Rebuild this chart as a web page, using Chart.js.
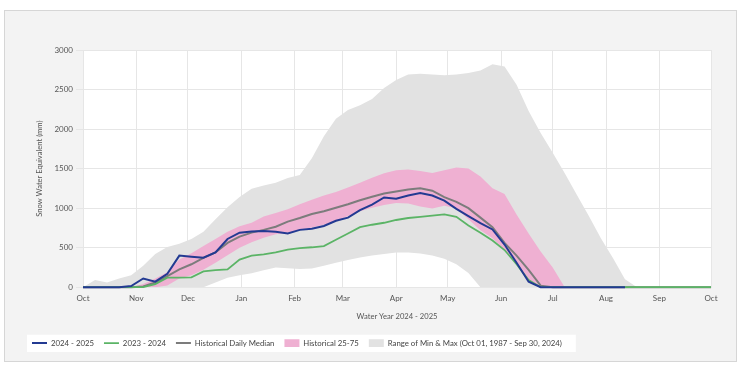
<!DOCTYPE html>
<html lang="en">
<head>
<meta charset="UTF-8">
<title>Snow Water Equivalent</title>
<script src="https://cdn.jsdelivr.net/npm/chart.js@4.4.1/dist/chart.umd.min.js"></script>
<style>
  body { margin: 0; background: #fff; }
  #box { position: absolute; left: 4px; top: 10px; width: 731px; height: 350px; border: 1px solid #d6d6d6; background: #f3f3f3; }
</style>
</head>
<body>
<div id="box"><canvas id="swe"></canvas></div>
<script>
// day of water year (0 = Oct 1)
const days = [0, 7, 14, 21, 28, 35, 42, 49, 56, 63, 70, 77, 84, 91, 98, 105, 112, 119, 126, 133, 140, 147, 154, 161, 168, 175, 182, 189, 196, 203, 210, 217, 224, 231, 238, 245, 252, 259, 266, 273, 280, 287, 294, 301, 308, 315, 322, 329, 336, 343, 350, 357, 364, 365];
const monthDays = [0, 31, 61, 92, 123, 151, 182, 212, 243, 273, 304, 335, 365];
const monthLabels = ['Oct', 'Nov', 'Dec', 'Jan', 'Feb', 'Mar', 'Apr', 'May', 'Jun', 'Jul', 'Aug', 'Sep', 'Oct'];

// SWE in mm
const wy2025 = [0, 0, 0, 0, 15, 110, 70, 170, 400, 385, 372, 440, 610, 690, 705, 712, 700, 680, 725, 740, 775, 840, 880, 975, 1045, 1135, 1120, 1160, 1190, 1160, 1095, 990, 900, 810, 730, 540, 310, 70, 0, 0, 0, 0, 0, 0, 0, 0, null, null, null, null, null, null, null, null];
const wy2024 = [0, 0, 0, 0, 0, 0, 40, 120, 120, 125, 200, 215, 225, 350, 400, 415, 440, 475, 495, 505, 520, 600, 680, 760, 790, 815, 850, 875, 890, 905, 920, 890, 780, 690, 590, 470, 290, 90, 0, 0, 0, 0, 0, 0, 0, 0, 0, 0, 0, 0, 0, 0, 0, 0];
const median = [0, 0, 0, 0, 0, 10, 60, 140, 225, 290, 370, 440, 560, 640, 690, 725, 765, 830, 875, 925, 960, 1005, 1050, 1100, 1145, 1185, 1210, 1235, 1250, 1220, 1140, 1080, 1000, 880, 760, 560, 400, 220, 20, 0, 0, 0, 0, 0, 0, 0, 0, 0, 0, 0, 0, 0, 0, 0];
const p75 = [0, 0, 0, 0, 0, 40, 110, 190, 350, 430, 520, 610, 700, 770, 815, 895, 940, 985, 1050, 1105, 1160, 1205, 1260, 1320, 1385, 1440, 1480, 1490, 1470, 1445, 1480, 1515, 1500, 1400, 1250, 1180, 920, 680, 450, 250, 0, 0, 0, 0, 0, 0, 0, 0, 0, 0, 0, 0, 0, 0];
const p25 = [0, 0, 0, 0, 0, 0, 0, 20, 110, 150, 220, 310, 405, 500, 570, 625, 670, 690, 725, 755, 790, 830, 900, 960, 1005, 1040, 1065, 1060, 1020, 995, 1030, 1000, 860, 720, 620, 470, 280, 90, 0, 0, 0, 0, 0, 0, 0, 0, 0, 0, 0, 0, 0, 0, 0, 0];
const maxSwe = [0, 90, 60, 110, 150, 270, 420, 510, 550, 610, 700, 860, 1010, 1140, 1245, 1285, 1320, 1380, 1420, 1630, 1910, 2130, 2240, 2300, 2380, 2520, 2620, 2690, 2700, 2690, 2680, 2690, 2710, 2740, 2820, 2790, 2560, 2230, 1950, 1700, 1440, 1170, 900, 620, 370, 100, 0, 0, 0, 0, 0, 0, 0, 0];
const minSwe = [0, 0, 0, 0, 0, 0, 0, 0, 0, 0, 0, 60, 120, 150, 175, 215, 250, 240, 230, 235, 270, 310, 345, 375, 400, 420, 440, 440, 425, 400, 360, 290, 180, 0, 0, 0, 0, 0, 0, 0, 0, 0, 0, 0, 0, 0, 0, 0, 0, 0, 0, 0, 0, 0];

const pts = arr => days.map((d, i) => ({x: d, y: arr[i]}));
const FONT = 'Lato';

function lineSet(label, arr, color, width) {
    return {
        label: label, data: pts(arr), borderColor: color, borderWidth: width,
        pointRadius: 0, pointStyle: 'line', pointBorderColor: color, pointBorderWidth: width,
        pointBackgroundColor: color, fill: false, tension: 0, clip: 4
    };
}
function bandSet(label, arr, color, target) {
    return {
        label: label, data: pts(arr), borderColor: 'transparent', borderWidth: 0,
        backgroundColor: color, pointRadius: 0, pointStyle: 'rect', pointBorderWidth: 0,
        pointBorderColor: 'transparent', pointBackgroundColor: color, fill: target, tension: 0
    };
}

// white plot area and white legend strip
const backdrop = {
    id: 'backdrop',
    beforeDraw(chart) {
        const {ctx, chartArea: a, legend} = chart;
        ctx.save();
        ctx.fillStyle = '#fff';
        ctx.fillRect(a.left, a.top, a.right - a.left, a.bottom - a.top);
        const boxes = legend.legendHitBoxes;
        if (boxes && boxes.length) {
            const first = boxes[0], last = boxes[boxes.length - 1];
            const l = first.left - 5;
            ctx.fillRect(l, first.top - 4.5, last.left + last.width + 14 - l, first.height + 9.5);
        }
        ctx.restore();
    }
};

new Chart(document.getElementById('swe'), {
    type: 'line',
    data: {
        datasets: [
            lineSet('2024 - 2025', wy2025, '#233a92', 2),
            lineSet('2023 - 2024', wy2024, '#5bb466', 1.8),
            lineSet('Historical Daily Median', median, '#7c7c7c', 2),
            bandSet('Historical 25-75', p75, '#efb0d2', 5),
            bandSet('Range of Min & Max (Oct 01, 1987 - Sep 30, 2024)', maxSwe, '#e2e2e2', 6),
            bandSet('p25', p25, 'transparent', false),
            bandSet('min', minSwe, 'transparent', false)
        ]
    },
    options: {
        responsive: true,
        maintainAspectRatio: false,
        animation: false,
        layout: { padding: { left: 17, right: 25, top: 39, bottom: 4 } },
        scales: {
            x: {
                type: 'linear', min: 0, max: 365,
                afterBuildTicks: s => { s.ticks = monthDays.map(v => ({value: v})); },
                afterFit: s => { s.height = 42; },
                ticks: {
                    autoSkip: false, maxRotation: 0, padding: 6, color: '#555',
                    font: {family: FONT, size: 8},
                    callback: (v, i) => monthLabels[i]
                },
                grid: { color: '#e6e6e6', drawTicks: false },
                border: { color: '#e6e6e6' },
                title: {
                    display: true, text: 'Water Year 2024 - 2025', color: '#555',
                    font: {family: FONT, size: 7.6}, padding: {top: 0, bottom: 8}
                }
            },
            y: {
                min: 0, max: 3000,
                afterFit: s => { s.width = 61; },
                ticks: {
                    stepSize: 500, padding: 3, color: '#555', font: {family: FONT, size: 8},
                    callback: v => String(v)
                },
                grid: { color: '#e6e6e6', tickLength: 7 },
                border: { color: '#e6e6e6' },
                title: {
                    display: true, text: 'Snow Water Equivalent (mm)', color: '#555',
                    font: {family: FONT, size: 7.6}, padding: {top: 13, bottom: 0}
                }
            }
        },
        plugins: {
            tooltip: { enabled: false },
            legend: {
                position: 'bottom', align: 'start',
                labels: {
                    usePointStyle: true, pointStyleWidth: 15, boxHeight: 8, padding: 10,
                    color: '#444', font: {family: FONT, size: 7.8},
                    filter: item => item.datasetIndex < 5
                }
            }
        }
    },
    plugins: [backdrop]
});
</script>
</body>
</html>
